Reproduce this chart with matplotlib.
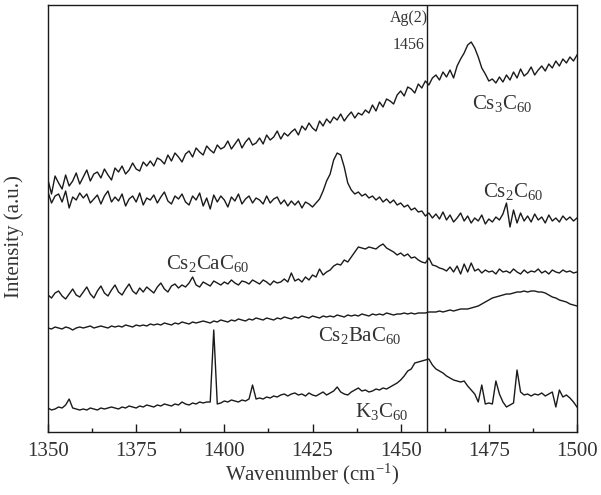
import numpy as np
import matplotlib
matplotlib.use("Agg")
import matplotlib.pyplot as plt

plt.rcParams['font.family'] = ['Liberation Serif', 'DejaVu Serif']
plt.rcParams['mathtext.fontset'] = 'custom'
plt.rcParams['mathtext.rm'] = 'Liberation Serif'
plt.rcParams['mathtext.it'] = 'Liberation Serif:italic'

wavenumber = np.arange(1350, 1501)

cs3c60 = [
    252, 238, 256, 249, 243, 257, 246, 251, 259, 248,
    255, 262, 251, 258, 260, 254, 263, 257, 252, 264,
    260, 266, 258, 262, 269, 263, 261, 270, 266, 271,
    266, 274, 272, 268, 277, 271, 279, 275, 270, 278,
    281, 275, 284, 280, 277, 286, 282, 279, 287, 283,
    285, 291, 283, 288, 293, 284, 290, 294, 287, 289,
    294, 288, 297, 292, 295, 301, 293, 299, 296, 300,
    303, 297, 306, 302, 309, 304, 301, 311, 306, 313,
    309, 315, 312, 318, 311, 316, 320, 314, 319, 317,
    322, 319, 327, 321, 330, 325, 333, 331, 328, 337,
    341, 336, 345, 343, 339, 348, 344, 351, 347, 354,
    357, 352, 360, 355, 362, 354, 366, 373, 379, 387,
    390, 384, 375, 364, 358, 351, 353, 349, 355, 350,
    357, 352, 360, 354, 363, 356, 359, 365, 357, 362,
    366, 361, 368, 364, 371, 366, 373, 369, 375, 371,
    377]

cs2c60 = [
    240, 229, 236, 238, 230, 241, 224, 235, 232, 239,
    234, 238, 229, 233, 237, 228, 236, 241, 230, 235,
    231, 238, 226, 233, 236, 230, 239, 227, 234, 232,
    237, 229, 235, 240, 231, 228, 236, 233, 238, 230,
    227, 236, 232, 239, 226, 234, 223, 237, 230, 236,
    232, 225, 235, 231, 238, 228, 233, 236, 229, 234,
    232, 228, 236, 229, 233, 235, 228, 232, 226, 231,
    227, 231, 224, 230, 228, 225, 229, 233, 241, 251,
    258, 272, 279, 277, 265, 249, 242, 238, 240, 236,
    238, 234, 236, 232, 235, 230, 233, 229, 232, 227,
    229, 225, 227, 222, 224, 220, 221, 216, 219, 214,
    218, 213, 220, 212, 217, 210, 214, 219, 211, 216,
    209, 214, 211, 217, 208, 213, 210, 215, 212, 218,
    229, 205, 222, 209, 219, 211, 216, 210, 218, 212,
    215, 209, 217, 211, 214, 210, 216, 212, 215, 211,
    214]

cs2cac60 = [
    137, 134, 139, 141, 136, 133, 138, 143, 137, 135,
    140, 145, 138, 134, 141, 146, 139, 136, 142, 147,
    140, 137, 143, 148, 141, 138, 144, 140, 145, 142,
    139, 145, 149, 143, 140, 146, 148, 144, 147, 145,
    149, 155, 147, 145, 150, 148, 146, 151, 149, 147,
    150, 148, 152, 149, 147, 151, 150, 148, 152, 150,
    148, 152, 150, 147, 151, 149, 150, 153, 150, 159,
    151, 153, 150, 155, 152, 157, 155, 163, 157, 160,
    162, 166, 168, 167, 172, 170, 175, 180, 185, 184,
    183, 185, 184, 183, 186, 188, 184, 182, 180, 177,
    179, 176, 178, 174, 175, 172, 170, 169, 174, 167,
    166, 164, 163, 161, 165, 160, 166, 158, 168, 160,
    169, 161, 163, 159, 162, 160, 161, 158, 163, 160,
    161, 159, 163, 160, 158, 162, 159, 161, 160, 163,
    159, 161, 158, 162, 160, 159, 162, 160, 161, 159,
    160]

cs2bac60 = [
    104, 103, 105, 104, 103, 105, 104, 102, 104, 105,
    104, 105, 106, 104, 105, 106, 105, 104, 106, 105,
    106, 105, 107, 106, 105, 107, 106, 107, 106, 108,
    107, 108, 107, 109, 108, 107, 109, 108, 110, 109,
    108, 110, 109, 110, 111, 110, 109, 111, 110, 112,
    111, 110, 112, 111, 113, 112, 111, 113, 112, 114,
    113, 112, 114, 113, 112, 114, 113, 115, 114, 113,
    115, 114, 116, 115, 114, 116, 115, 114, 116, 115,
    116, 115, 117, 116, 115, 117, 116, 117, 116, 118,
    117, 116, 118, 117, 118, 117, 119, 118, 117, 118,
    118, 119, 118, 119, 118, 119, 119, 119, 120, 120,
    120, 121, 120, 121, 122, 121, 122, 123, 123, 123,
    124, 125, 126, 128, 130, 132, 134, 135, 136, 137,
    138, 138, 139, 140, 140, 141, 140, 141, 141, 140,
    140, 139, 137, 135, 134, 132, 131, 130, 128, 127,
    126]

k3c60 = [
    24, 22, 23, 25, 24, 27, 33, 24, 23, 22,
    23, 22, 24, 23, 22, 24, 23, 24, 25, 24,
    23, 25, 24, 26, 25, 24, 26, 25, 27, 26,
    25, 27, 26, 28, 27, 26, 28, 27, 30, 28,
    27, 29, 28, 30, 29, 30, 30, 102, 28, 29,
    31, 30, 32, 31, 30, 32, 31, 33, 47, 33,
    34, 33, 35, 34, 36, 35, 37, 38, 36, 38,
    39, 37, 38, 36, 39, 37, 36, 38, 40, 37,
    39, 41, 45, 40, 38, 37, 40, 42, 44, 41,
    42, 40, 41, 43, 42, 44, 43, 45, 47, 49,
    52, 56, 61, 63, 69, 70, 71, 72, 73, 67,
    63, 61, 59, 56, 54, 52, 51, 50, 51, 46,
    42, 38, 30, 47, 28, 29, 28, 51, 38, 30,
    25, 27, 29, 62, 40, 37, 38, 36, 38, 37,
    39, 36, 38, 40, 25, 42, 35, 37, 34, 30,
    25]

series = [cs3c60, cs2c60, cs2cac60, cs2bac60, k3c60]
labels = [r'Cs$_3$C$_{60}$', r'Cs$_2$C$_{60}$', r'Cs$_2$CaC$_{60}$',
          r'Cs$_2$BaC$_{60}$', r'K$_3$C$_{60}$']
label_pos = [(1478.8, 328), (1481.8, 241), (1395.3, 168), (1438.3, 96), (1444.5, 20)]

line_color = '#1a1a1a'
text_color = '#333333'

fig = plt.figure(figsize=(6.01, 4.95), dpi=100)
ax = fig.add_axes([48 / 601, 1 - 432 / 495, 529 / 601, 427 / 495])

for ys in series:
    ax.plot(wavenumber, ys, color=line_color, lw=1.0)

ax.axvline(1457.6, color=line_color, lw=1.0)

for lab, (xp, yp) in zip(labels, label_pos):
    ax.text(xp, yp, lab, fontsize=15, color=text_color, ha='center', va='center')

ax.text(1452.3, 414, 'Ag(2)', fontsize=11.5, color=text_color, ha='center', va='center')
ax.text(1452.3, 387, '1456', fontsize=11.5, color=text_color, ha='center', va='center')

ax.set_xlim(1350, 1500)
ax.set_ylim(0, 427)
ax.set_xticks([1350, 1375, 1400, 1425, 1450, 1475, 1500])
ax.set_xticks(np.arange(1362.5, 1500, 25), minor=True)
ax.set_yticks([])
ax.tick_params(axis='x', which='major', direction='in', length=6, width=1.0,
               labelsize=15, colors=line_color, labelcolor=text_color, pad=7)
ax.tick_params(axis='x', which='minor', direction='in', length=3, width=1.0,
               colors=line_color)
for sp in ax.spines.values():
    sp.set_linewidth(1.0)
    sp.set_color(line_color)

ax.set_xlabel(r'Wavenumber (cm$^{-1}$)', fontsize=15, color=text_color, labelpad=1)
ax.set_ylabel('Intensity (a.u.)', fontsize=15, color=text_color)
ax.yaxis.set_label_coords(-0.046, 0.457)

fig.savefig('out.png', dpi=100)
